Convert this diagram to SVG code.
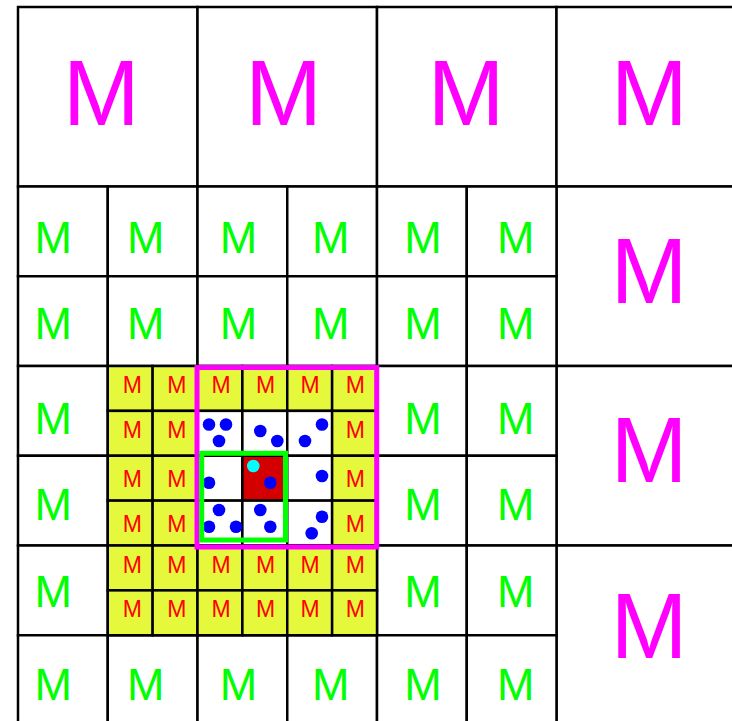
<svg xmlns="http://www.w3.org/2000/svg" width="732" height="721" viewBox="0 0 732 721">
<style>
.c{fill:#fff;stroke:#000;stroke-width:2.5}
.y{fill:#E6F83C;stroke:#000;stroke-width:2.5}
.w{fill:#fff;stroke:#000;stroke-width:2.5}
.rd{fill:#D40000;stroke:#000;stroke-width:2.5}
text{font-family:"Liberation Sans",Arial,sans-serif;text-anchor:middle}
.tm{fill:#FF00FF;font-size:92px}
.tg{fill:#00FF00;font-size:45px}
.tr{fill:#FF0000;font-size:23px}
.b{fill:#0000FF}
.cy{fill:#00FFFF}
.mag{fill:none;stroke:#FF00FF;stroke-width:5}
.grn{fill:none;stroke:#00FF00;stroke-width:5}
</style>
<rect width="732" height="721" fill="#fff"/>
<!-- big cells -->
<g id="big-0-0"><rect class="c" x="18" y="7" width="179.5" height="179.5"/><text class="tm" x="101.3" y="125">M</text></g>
<g id="big-0-1"><rect class="c" x="197.5" y="7" width="179.5" height="179.5"/><text class="tm" x="283.5" y="125">M</text></g>
<g id="big-0-2"><rect class="c" x="377" y="7" width="179.5" height="179.5"/><text class="tm" x="466.1" y="125">M</text></g>
<g id="big-0-3"><rect class="c" x="556.5" y="7" width="179.5" height="179.5"/><text class="tm" x="649.4" y="125">M</text></g>
<g id="big-1-3"><rect class="c" x="556.5" y="186.5" width="179.5" height="179.5"/><text class="tm" x="649" y="302.7">M</text></g>
<g id="big-2-3"><rect class="c" x="556.5" y="366" width="179.5" height="179.5"/><text class="tm" x="649" y="481.7">M</text></g>
<g id="big-3-3"><rect class="c" x="556.5" y="545.5" width="179.5" height="179.5"/><text class="tm" x="649" y="658.3">M</text></g>
<!-- medium cells -->
<g id="med-0-0"><rect class="c" x="18" y="186.5" width="89.75" height="89.75"/><text class="tg" x="53.3" y="252.7">M</text></g>
<g id="med-0-1"><rect class="c" x="107.75" y="186.5" width="89.75" height="89.75"/><text class="tg" x="145.8" y="252.7">M</text></g>
<g id="med-0-2"><rect class="c" x="197.5" y="186.5" width="89.75" height="89.75"/><text class="tg" x="238.4" y="252.7">M</text></g>
<g id="med-0-3"><rect class="c" x="287.25" y="186.5" width="89.75" height="89.75"/><text class="tg" x="330.8" y="252.7">M</text></g>
<g id="med-0-4"><rect class="c" x="377" y="186.5" width="89.75" height="89.75"/><text class="tg" x="423" y="252.7">M</text></g>
<g id="med-0-5"><rect class="c" x="466.75" y="186.5" width="89.75" height="89.75"/><text class="tg" x="515.7" y="252.7">M</text></g>
<g id="med-1-0"><rect class="c" x="18" y="276.25" width="89.75" height="89.75"/><text class="tg" x="53.3" y="338.7">M</text></g>
<g id="med-1-1"><rect class="c" x="107.75" y="276.25" width="89.75" height="89.75"/><text class="tg" x="145.8" y="338.7">M</text></g>
<g id="med-1-2"><rect class="c" x="197.5" y="276.25" width="89.75" height="89.75"/><text class="tg" x="238.4" y="338.7">M</text></g>
<g id="med-1-3"><rect class="c" x="287.25" y="276.25" width="89.75" height="89.75"/><text class="tg" x="330.8" y="338.7">M</text></g>
<g id="med-1-4"><rect class="c" x="377" y="276.25" width="89.75" height="89.75"/><text class="tg" x="423" y="338.7">M</text></g>
<g id="med-1-5"><rect class="c" x="466.75" y="276.25" width="89.75" height="89.75"/><text class="tg" x="515.7" y="338.7">M</text></g>
<g id="med-2-0"><rect class="c" x="18" y="366" width="89.75" height="89.75"/><text class="tg" x="53.3" y="434">M</text></g>
<g id="med-2-4"><rect class="c" x="377" y="366" width="89.75" height="89.75"/><text class="tg" x="423" y="434">M</text></g>
<g id="med-2-5"><rect class="c" x="466.75" y="366" width="89.75" height="89.75"/><text class="tg" x="515.7" y="434">M</text></g>
<g id="med-3-0"><rect class="c" x="18" y="455.75" width="89.75" height="89.75"/><text class="tg" x="53.3" y="520">M</text></g>
<g id="med-3-4"><rect class="c" x="377" y="455.75" width="89.75" height="89.75"/><text class="tg" x="423" y="520">M</text></g>
<g id="med-3-5"><rect class="c" x="466.75" y="455.75" width="89.75" height="89.75"/><text class="tg" x="515.7" y="520">M</text></g>
<g id="med-4-0"><rect class="c" x="18" y="545.5" width="89.75" height="89.75"/><text class="tg" x="53.3" y="606.7">M</text></g>
<g id="med-4-4"><rect class="c" x="377" y="545.5" width="89.75" height="89.75"/><text class="tg" x="423" y="606.7">M</text></g>
<g id="med-4-5"><rect class="c" x="466.75" y="545.5" width="89.75" height="89.75"/><text class="tg" x="515.7" y="606.7">M</text></g>
<g id="med-5-0"><rect class="c" x="18" y="635.25" width="89.75" height="89.75"/><text class="tg" x="53.3" y="700">M</text></g>
<g id="med-5-1"><rect class="c" x="107.75" y="635.25" width="89.75" height="89.75"/><text class="tg" x="145.8" y="700">M</text></g>
<g id="med-5-2"><rect class="c" x="197.5" y="635.25" width="89.75" height="89.75"/><text class="tg" x="238.4" y="700">M</text></g>
<g id="med-5-3"><rect class="c" x="287.25" y="635.25" width="89.75" height="89.75"/><text class="tg" x="330.8" y="700">M</text></g>
<g id="med-5-4"><rect class="c" x="377" y="635.25" width="89.75" height="89.75"/><text class="tg" x="423" y="700">M</text></g>
<g id="med-5-5"><rect class="c" x="466.75" y="635.25" width="89.75" height="89.75"/><text class="tg" x="515.7" y="700">M</text></g>
<!-- small cells: row 0 -->
<g id="s-0-0"><rect class="y" x="107.75" y="366" width="44.875" height="44.875"/><text class="tr" x="132.4" y="393.3">M</text></g>
<g id="s-0-1"><rect class="y" x="152.625" y="366" width="44.875" height="44.875"/><text class="tr" x="176.8" y="393.3">M</text></g>
<g id="s-0-2"><rect class="y" x="197.5" y="366" width="44.875" height="44.875"/><text class="tr" x="221" y="393.3">M</text></g>
<g id="s-0-3"><rect class="y" x="242.375" y="366" width="44.875" height="44.875"/><text class="tr" x="265.7" y="393.3">M</text></g>
<g id="s-0-4"><rect class="y" x="287.25" y="366" width="44.875" height="44.875"/><text class="tr" x="310" y="393.3">M</text></g>
<g id="s-0-5"><rect class="y" x="332.125" y="366" width="44.875" height="44.875"/><text class="tr" x="355.3" y="393.3">M</text></g>
<!-- row 1 -->
<g id="s-1-0"><rect class="y" x="107.75" y="410.875" width="44.875" height="44.875"/><text class="tr" x="132.4" y="438.3">M</text></g>
<g id="s-1-1"><rect class="y" x="152.625" y="410.875" width="44.875" height="44.875"/><text class="tr" x="176.8" y="438.3">M</text></g>
<g id="s-1-2"><rect class="w" x="197.5" y="410.875" width="44.875" height="44.875"/></g>
<g id="s-1-3"><rect class="w" x="242.375" y="410.875" width="44.875" height="44.875"/></g>
<g id="s-1-4"><rect class="w" x="287.25" y="410.875" width="44.875" height="44.875"/></g>
<g id="s-1-5"><rect class="y" x="332.125" y="410.875" width="44.875" height="44.875"/><text class="tr" x="355.3" y="438.3">M</text></g>
<!-- row 2 -->
<g id="s-2-0"><rect class="y" x="107.75" y="455.75" width="44.875" height="44.875"/><text class="tr" x="132.4" y="486.7">M</text></g>
<g id="s-2-1"><rect class="y" x="152.625" y="455.75" width="44.875" height="44.875"/><text class="tr" x="176.8" y="486.7">M</text></g>
<g id="s-2-2"><rect class="w" x="197.5" y="455.75" width="44.875" height="44.875"/></g>
<g id="s-2-3"><rect class="rd" x="242.375" y="455.75" width="44.875" height="44.875"/></g>
<g id="s-2-4"><rect class="w" x="287.25" y="455.75" width="44.875" height="44.875"/></g>
<g id="s-2-5"><rect class="y" x="332.125" y="455.75" width="44.875" height="44.875"/><text class="tr" x="355.3" y="486.7">M</text></g>
<!-- row 3 -->
<g id="s-3-0"><rect class="y" x="107.75" y="500.625" width="44.875" height="44.875"/><text class="tr" x="132.4" y="531.7">M</text></g>
<g id="s-3-1"><rect class="y" x="152.625" y="500.625" width="44.875" height="44.875"/><text class="tr" x="176.8" y="531.7">M</text></g>
<g id="s-3-2"><rect class="w" x="197.5" y="500.625" width="44.875" height="44.875"/></g>
<g id="s-3-3"><rect class="w" x="242.375" y="500.625" width="44.875" height="44.875"/></g>
<g id="s-3-4"><rect class="w" x="287.25" y="500.625" width="44.875" height="44.875"/></g>
<g id="s-3-5"><rect class="y" x="332.125" y="500.625" width="44.875" height="44.875"/><text class="tr" x="355.3" y="531.7">M</text></g>
<!-- row 4 -->
<g id="s-4-0"><rect class="y" x="107.75" y="545.5" width="44.875" height="44.875"/><text class="tr" x="132.4" y="573.3">M</text></g>
<g id="s-4-1"><rect class="y" x="152.625" y="545.5" width="44.875" height="44.875"/><text class="tr" x="176.8" y="573.3">M</text></g>
<g id="s-4-2"><rect class="y" x="197.5" y="545.5" width="44.875" height="44.875"/><text class="tr" x="221" y="573.3">M</text></g>
<g id="s-4-3"><rect class="y" x="242.375" y="545.5" width="44.875" height="44.875"/><text class="tr" x="265.7" y="573.3">M</text></g>
<g id="s-4-4"><rect class="y" x="287.25" y="545.5" width="44.875" height="44.875"/><text class="tr" x="310" y="573.3">M</text></g>
<g id="s-4-5"><rect class="y" x="332.125" y="545.5" width="44.875" height="44.875"/><text class="tr" x="355.3" y="573.3">M</text></g>
<!-- row 5 -->
<g id="s-5-0"><rect class="y" x="107.75" y="590.375" width="44.875" height="44.875"/><text class="tr" x="132.4" y="616.7">M</text></g>
<g id="s-5-1"><rect class="y" x="152.625" y="590.375" width="44.875" height="44.875"/><text class="tr" x="176.8" y="616.7">M</text></g>
<g id="s-5-2"><rect class="y" x="197.5" y="590.375" width="44.875" height="44.875"/><text class="tr" x="221" y="616.7">M</text></g>
<g id="s-5-3"><rect class="y" x="242.375" y="590.375" width="44.875" height="44.875"/><text class="tr" x="265.7" y="616.7">M</text></g>
<g id="s-5-4"><rect class="y" x="287.25" y="590.375" width="44.875" height="44.875"/><text class="tr" x="310" y="616.7">M</text></g>
<g id="s-5-5"><rect class="y" x="332.125" y="590.375" width="44.875" height="44.875"/><text class="tr" x="355.3" y="616.7">M</text></g>
<!-- particles -->
<g id="particles">
<circle class="b" cx="209" cy="424.5" r="6.3"/>
<circle class="b" cx="226" cy="424.5" r="6.3"/>
<circle class="b" cx="219" cy="441" r="6.3"/>
<circle class="b" cx="260.3" cy="431" r="6.3"/>
<circle class="b" cx="277.3" cy="441" r="6.3"/>
<circle class="b" cx="322" cy="424.5" r="6.3"/>
<circle class="b" cx="305" cy="441" r="6.3"/>
<circle class="b" cx="209" cy="482.7" r="6.3"/>
<circle class="b" cx="270.3" cy="482.7" r="6.3"/>
<circle class="b" cx="322" cy="476" r="6.3"/>
<circle class="b" cx="219" cy="510" r="6.3"/>
<circle class="b" cx="209" cy="526.7" r="6.3"/>
<circle class="b" cx="236" cy="526.7" r="6.3"/>
<circle class="b" cx="260.3" cy="510" r="6.3"/>
<circle class="b" cx="270.3" cy="526.7" r="6.3"/>
<circle class="b" cx="322" cy="516.7" r="6.3"/>
<circle class="b" cx="311.7" cy="533.3" r="6.3"/>
<circle class="cy" cx="253.3" cy="466" r="6.3"/>
</g>
<!-- highlight frames -->
<g id="connectors">
<rect id="frame-magenta" class="mag" x="197" y="367.5" width="179.7" height="179.5"/>
<rect id="frame-green" class="grn" x="201.7" y="453.3" width="83.8" height="86.7"/>
</g>
</svg>
